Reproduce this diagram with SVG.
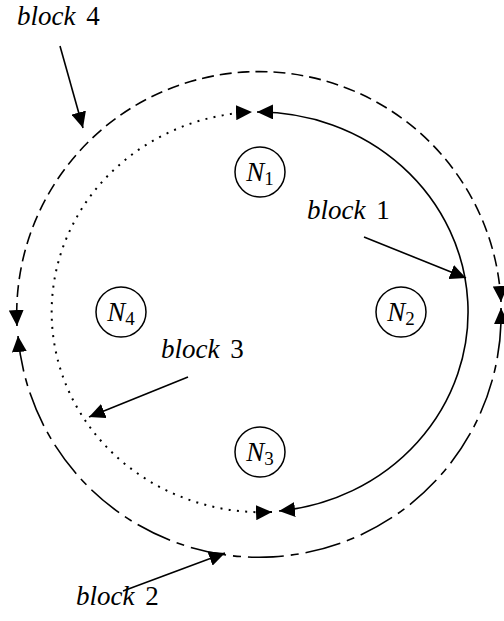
<svg xmlns="http://www.w3.org/2000/svg" width="504" height="621" viewBox="0 0 504 621">
<style>
.ln{fill:none;stroke:#000;stroke-width:1.6}
.dash{stroke-dasharray:12 6}
.dashdot{stroke-dasharray:36 7 8 7}
.dot{stroke-width:2;stroke-dasharray:2 6.3}
.lbl{font-family:"Liberation Serif",serif;font-size:27px;fill:#000;word-spacing:4px}
.it{font-style:italic}
.node circle{fill:#fff;stroke:#000;stroke-width:1.5}
.node text{font-size:27px}
.sub{font-size:19px}
</style>
<defs>
<marker id="ah" viewBox="0 0 16 15" refX="16" refY="7.5" markerWidth="16" markerHeight="15" markerUnits="userSpaceOnUse" orient="auto-start-reverse">
<path d="M0,0 L16,7.5 L0,15 z" fill="#000"/>
</marker>
</defs>
<rect width="504" height="621" fill="#fff"/>
<g id="connectors">
<path id="block4-arc" class="ln dash" d="M 501 302 A 242 242 0 1 0 17 326" marker-start="url(#ah)" marker-end="url(#ah)"/>
<path id="block2-arc" class="ln dashdot" d="M 18 336 A 242 242 0 0 0 501 308" marker-start="url(#ah)" marker-end="url(#ah)"/>
<path id="block1-arc" class="ln" d="M 257 112 A 210 200 0 0 1 279 511" marker-start="url(#ah)" marker-end="url(#ah)"/>
<path id="block3-arc" class="ln dot" d="M 272 512 A 210 200 0 1 1 252 112" marker-start="url(#ah)" marker-end="url(#ah)"/>
<line class="ln" x1="60" y1="46" x2="83" y2="128" marker-end="url(#ah)"/>
<line class="ln" x1="364" y1="237" x2="466" y2="278" marker-end="url(#ah)"/>
<line class="ln" x1="188" y1="377" x2="89" y2="417" marker-end="url(#ah)"/>
<line class="ln" x1="123" y1="591" x2="225" y2="553" marker-end="url(#ah)"/>
</g>
<g id="label-block4"><text class="lbl" x="17" y="25"><tspan class="it">block</tspan> 4</text></g>
<g id="label-block1"><text class="lbl" x="307" y="219"><tspan class="it">block</tspan> 1</text></g>
<g id="label-block3"><text class="lbl" x="161" y="358"><tspan class="it">block</tspan> 3</text></g>
<g id="label-block2"><text class="lbl" x="76" y="605"><tspan class="it">block</tspan> 2</text></g>
<g id="N1" class="node"><circle cx="260" cy="172" r="25"/><text class="lbl" x="260" y="181" text-anchor="middle"><tspan class="it">N</tspan><tspan class="sub" dy="4">1</tspan></text></g>
<g id="N2" class="node"><circle cx="401" cy="312" r="25"/><text class="lbl" x="401" y="321" text-anchor="middle"><tspan class="it">N</tspan><tspan class="sub" dy="4">2</tspan></text></g>
<g id="N3" class="node"><circle cx="260" cy="452" r="25"/><text class="lbl" x="260" y="461" text-anchor="middle"><tspan class="it">N</tspan><tspan class="sub" dy="4">3</tspan></text></g>
<g id="N4" class="node"><circle cx="121" cy="312" r="25"/><text class="lbl" x="121" y="321" text-anchor="middle"><tspan class="it">N</tspan><tspan class="sub" dy="4">4</tspan></text></g>
</svg>
